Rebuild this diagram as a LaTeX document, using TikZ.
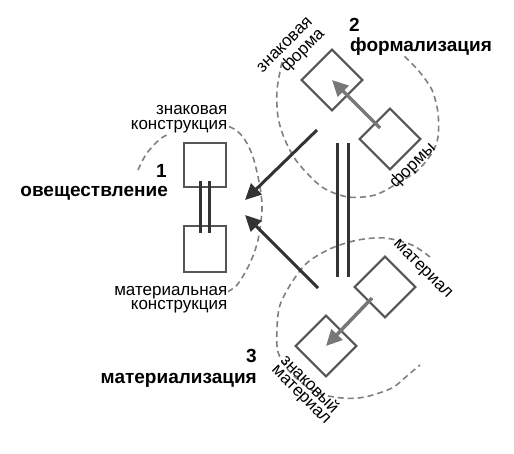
\documentclass[tikz,border=0pt]{standalone}
\usepackage{fontspec}
\setmainfont{Liberation Sans}
\usetikzlibrary{arrows.meta}
\definecolor{sqc}{HTML}{555555}
\definecolor{darkc}{HTML}{333333}
\definecolor{arrc}{HTML}{777777}
\definecolor{ellc}{HTML}{808080}
\begin{document}
\begin{tikzpicture}[x=1pt,y=-1pt,
  sq/.style={draw=sqc,line width=2pt,minimum width=43pt,minimum height=43pt,inner sep=0pt},
  rsq/.style={sq,rotate=45},
  lbl/.style={font=\fontsize{17}{16}\selectfont,inner sep=0.5pt,fill=white},
  rlbl/.style={font=\fontsize{17}{16}\selectfont,inner sep=0pt},
  bl/.style={font=\fontsize{19}{20}\selectfont\bfseries,inner sep=0pt},
  ell/.style={draw=ellc,line width=1.6pt,dash pattern=on 6pt off 4pt},
  darr/.style={draw=darkc,line width=3pt,-{Triangle[length=16pt,width=15pt]}},
  garr/.style={draw=arrc,line width=3.5pt,-{Triangle[length=16pt,width=15pt]}},
  dbl/.style={draw=darkc,line width=3pt}]
\useasboundingbox (0,0) rectangle (514,454);
% dashed ellipses
\draw[ell] plot[smooth] coordinates {(138,170) (147,153) (163,137) (187,128) (208,125) (230,127) (243,137) (253,157) (260,187) (262,210) (258,240) (250,263) (237,285) (222,295)};
\draw[ell] plot[smooth] coordinates {(282,62) (277,90) (278,117) (285,140) (298,163) (322,187) (348,197) (375,195) (398,183) (418,170) (432,153) (438,137) (438,113) (432,90) (418,70) (403,55)};
\draw[ell] plot[smooth] coordinates {(430,257) (412,245) (385,238) (358,240) (332,248) (308,262) (292,282) (280,305) (277,328) (278,352) (290,372) (315,392) (342,398) (365,397) (392,388) (408,375) (420,365)};
% labels
\node[lbl,anchor=base east] (t1a) at (228,115) {знаковая};
\node[lbl,anchor=base east] (t1b) at (228,130) {конструкция};
\node[lbl,anchor=base east] (t1c) at (228,296) {материальная};
\node[lbl,anchor=base east] (t1d) at (228,310) {конструкция};
\node[bl,anchor=base east] (n1) at (167,178) {1};
\node[bl,anchor=base east] (n1t) at (168,197) {овеществление};
\node[bl,anchor=base west] (n2) at (349,32) {2};
\node[bl,anchor=base west] (n2t) at (350,52) {формализация};
\node[bl,anchor=base east] (n3) at (257,362) {3};
\node[bl,anchor=base east] (n3t) at (257,383) {материализация};
\node[rlbl,anchor=mid,rotate=45] (t2a) at (286,46) {знаковая};
\node[rlbl,anchor=mid,rotate=45] (t2b) at (304,52) {форма};
\node[rlbl,anchor=mid,rotate=45] (t2c) at (414,167) {формы};
\node[rlbl,anchor=mid,rotate=-45] (t3a) at (422,270) {материал};
\node[rlbl,anchor=mid,rotate=-45] (t3b) at (308,386) {знаковый};
\node[rlbl,anchor=mid,rotate=-45] (t3c) at (300,396) {материал};
% group 1
\node[sq,minimum width=42pt,minimum height=44pt] (s1a) at (205,165) {};
\node[sq,minimum width=42pt,minimum height=46pt] (s1b) at (205,249) {};
\draw[dbl] ([xshift=-4.5pt,yshift=7pt]s1a.south) -- ([xshift=-4.5pt,yshift=-8pt]s1b.north);
\draw[dbl] ([xshift=4.5pt,yshift=7pt]s1a.south) -- ([xshift=4.5pt,yshift=-8pt]s1b.north);
% group 2
\node[rsq] (s2a) at (332,80) {};
\node[rsq] (s2b) at (390,139) {};
\coordinate (g2s) at (380,128);
\draw[garr] (g2s) -- (s2a.center);
% group 3
\node[rsq] (s3a) at (385,287) {};
\node[rsq] (s3b) at (326,346) {};
\coordinate (g3s) at (372,298);
\draw[garr] (g3s) -- (s3b.center);
% middle double line
\coordinate (m1t) at (337,143);
\coordinate (m1b) at (337,277);
\coordinate (m2t) at (348,143);
\coordinate (m2b) at (348,277);
\draw[dbl] (m1t) -- (m1b);
\draw[dbl] (m2t) -- (m2b);
% dark arrows
\coordinate (a1s) at (317,130);
\coordinate (a1e) at (245,200);
\coordinate (a2s) at (318,288);
\coordinate (a2e) at (245,215);
\draw[darr] (a1s) -- (a1e);
\draw[darr] (a2s) -- (a2e);
\end{tikzpicture}
\end{document}
